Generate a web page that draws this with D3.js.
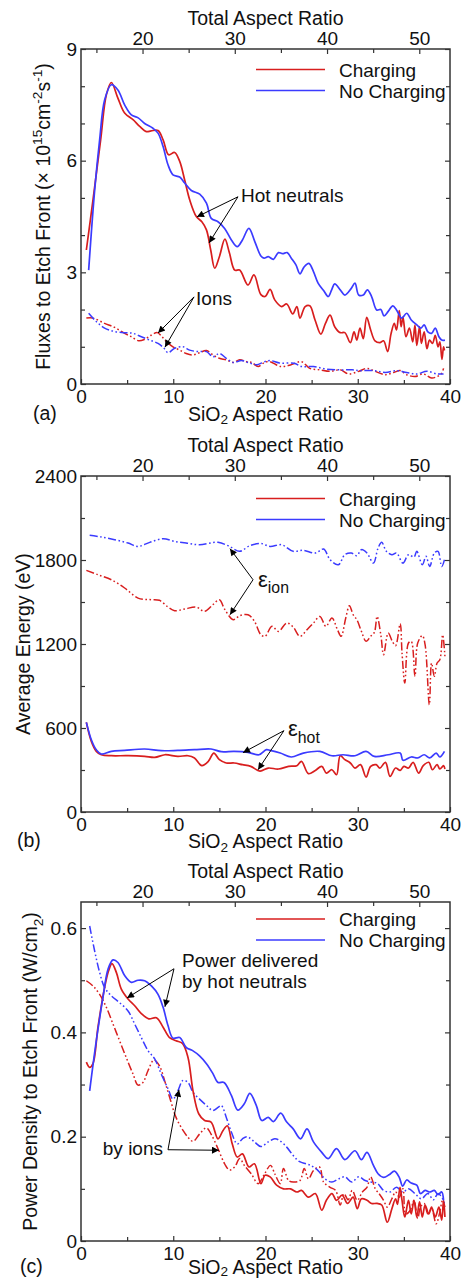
<!DOCTYPE html>
<html>
<head>
<meta charset="utf-8">
<script src="https://cdn.jsdelivr.net/npm/d3@7"></script>
<style>
  html, body { margin: 0; padding: 0; background: #fff; }
  svg { display: block; font-family: "Liberation Sans", Arial, Helvetica, sans-serif; }
</style>
</head>
<body>
<svg id="chart" width="463" height="1280"></svg>
<script>
// ---------------------------------------------------------------
// Axis ticks
// ---------------------------------------------------------------
const sio2Ticks = [0, 10, 20, 30, 40];
const sio2Minor = [5, 15, 25, 35];
const totalTicks = [20, 30, 40, 50];
const totalMinor = [15, 25, 35, 45];
const maskAspectRatio = 13.33;          // total aspect ratio = SiO2 aspect ratio + mask
const fluxTicks = [0, 3, 6, 9];
const fluxMinor = [1, 2, 4, 5, 7, 8];
const energyTicks = [0, 600, 1200, 1800, 2400];
const energyMinor = [300, 900, 1500, 2100];
const powerTicks = [0, 0.2, 0.4, 0.6];
const powerMinor = [0.1, 0.3, 0.5];

// ---------------------------------------------------------------
// (a) Fluxes to etch front (x 1e15 cm^-2 s^-1) vs SiO2 aspect ratio
// ---------------------------------------------------------------
const fluxHotCharging = [[0.58,3.6],[1.3,4.95],[2.13,6.56],[2.75,7.77],[3.29,8.1],[4.0,7.68],[4.73,7.28],[5.64,7.1],[6.36,6.92],[7.08,6.78],[7.6,6.8],[8.35,6.81],[8.9,6.56],[9.5,6.16],[10.15,6.22],[10.7,5.98],[11.24,5.48],[11.78,4.95],[12.5,4.5],[13.1,4.36],[13.6,4.14],[14.06,3.6],[14.5,3.11],[15.0,3.42],[15.6,3.89],[16.1,3.51],[16.66,3.06],[17.2,3.06],[18.1,2.66],[18.75,2.93],[19.5,2.4],[19.95,2.35],[20.5,2.54],[21.0,2.26],[21.75,2.08],[22.3,2.15],[22.95,1.88],[23.4,2.08],[23.74,1.77],[24.3,2.08],[24.8,2.1],[25.37,1.72],[26.0,1.34],[26.5,1.63],[27.0,1.85],[27.5,1.54],[28.1,1.38],[28.6,1.38],[29.2,1.11],[29.6,1.4],[29.9,1.18],[30.24,1.5],[30.6,1.22],[30.97,1.79],[31.4,1.45],[31.87,1.16],[32.4,1.11],[32.8,1.16],[33.24,0.87],[33.6,1.34],[33.96,1.63],[34.2,1.45],[34.5,1.97],[34.7,1.54],[34.9,1.8],[35.23,1.27],[35.6,1.5],[35.96,1.13],[36.2,1.58],[36.4,1.04],[36.7,1.54],[36.9,1.09],[37.2,1.4],[37.5,0.95],[37.78,1.18],[38.1,1.09],[38.4,1.31],[38.7,1.0],[38.9,1.13],[39.13,0.66],[39.3,1.0],[39.4,0.9]];
const fluxHotNoCharging = [[0.83,3.06],[1.48,5.2],[2.02,6.56],[2.56,7.63],[3.29,8.04],[4.0,7.9],[4.73,7.5],[5.46,7.23],[6.2,7.15],[6.9,7.0],[7.8,6.87],[8.35,6.74],[8.9,6.38],[9.43,5.89],[9.97,5.62],[10.7,5.56],[11.24,5.4],[11.96,5.2],[12.87,5.1],[13.6,4.86],[14.12,4.45],[14.85,4.36],[15.57,4.18],[16.3,3.87],[16.94,3.69],[17.5,3.87],[18.2,4.18],[18.85,3.82],[19.5,3.44],[19.84,3.38],[20.3,3.42],[20.85,3.35],[21.4,3.53],[21.85,3.5],[22.35,3.53],[22.8,3.38],[23.3,3.2],[23.74,2.96],[24.17,3.14],[24.7,3.24],[25.2,3.02],[25.7,2.71],[26.3,2.51],[26.8,2.35],[27.17,2.53],[27.5,2.69],[28.1,2.53],[28.6,2.39],[29.3,2.57],[29.7,2.71],[30.1,2.39],[30.6,2.39],[31.04,2.53],[31.5,2.35],[32.05,1.99],[32.5,2.0],[32.85,1.83],[33.3,1.95],[33.8,2.1],[34.2,1.99],[34.76,1.77],[35.3,1.9],[35.8,1.72],[36.4,1.59],[36.85,1.5],[37.2,1.59],[37.6,1.4],[38.0,1.36],[38.4,1.5],[38.8,1.27],[39.1,1.18],[39.45,1.18]];
const fluxIonCharging = [[0.58,1.77],[1.3,1.77],[2.56,1.63],[3.65,1.52],[4.73,1.36],[5.46,1.27],[6.25,1.16],[6.9,1.2],[7.6,1.31],[8.27,1.38],[8.7,1.29],[9.25,1.14],[9.97,1.0],[10.7,0.91],[11.4,0.82],[12.1,0.78],[12.85,0.84],[13.6,0.9],[14.3,0.78],[15.0,0.69],[15.75,0.65],[16.5,0.58],[17.2,0.65],[17.95,0.6],[18.5,0.58],[19.2,0.47],[19.9,0.58],[20.5,0.6],[21.6,0.47],[22.7,0.51],[23.9,0.6],[24.8,0.42],[25.9,0.38],[27.0,0.34],[28.1,0.38],[29.0,0.27],[30.1,0.34],[31.0,0.42],[31.9,0.34],[33.0,0.25],[33.9,0.31],[34.6,0.36],[35.3,0.25],[36.2,0.2],[37.1,0.27],[38.0,0.16],[38.6,0.2],[39.1,0.29],[39.3,0.42]];
const fluxIonNoCharging = [[0.83,1.9],[1.65,1.68],[2.56,1.5],[3.65,1.41],[4.73,1.38],[5.64,1.36],[6.54,1.27],[7.45,1.18],[8.35,1.09],[9.0,0.96],[9.43,0.84],[10.15,0.96],[11.06,1.0],[11.78,0.91],[12.7,0.87],[13.6,0.87],[14.3,0.73],[15.0,0.82],[15.75,0.69],[16.5,0.58],[17.4,0.63],[18.1,0.58],[19.1,0.52],[19.9,0.6],[20.5,0.63],[21.6,0.56],[23.1,0.56],[23.9,0.47],[25.2,0.47],[26.6,0.4],[28.1,0.38],[29.4,0.38],[30.2,0.36],[31.7,0.36],[33.0,0.31],[34.2,0.36],[35.3,0.31],[36.4,0.27],[37.5,0.34],[38.6,0.27],[39.3,0.27]];

// ---------------------------------------------------------------
// (b) Average energy (eV) vs SiO2 aspect ratio
// ---------------------------------------------------------------
const energyIonNoCharging = [[0.94,1976],[2.2,1964],[3.65,1945],[5.1,1921],[6.18,1897],[7.45,1926],[8.9,1952],[10.15,1933],[11.4,1921],[12.85,1909],[14.85,1926],[16.1,1897],[17.2,1862],[18.3,1902],[19.5,1918],[20.5,1897],[21.75,1909],[23.0,1862],[24.1,1869],[25.4,1850],[26.3,1878],[27.0,1802],[27.9,1766],[28.6,1838],[29.3,1850],[29.9,1831],[30.4,1874],[31.0,1850],[31.7,1778],[32.2,1885],[32.6,1926],[33.1,1862],[33.7,1838],[34.2,1850],[34.9,1778],[35.5,1838],[36.1,1821],[36.4,1862],[37.0,1766],[37.4,1826],[37.8,1754],[38.3,1850],[38.7,1862],[39.1,1754],[39.4,1802]];
const energyIonCharging = [[0.58,1726],[1.84,1695],[3.29,1659],[4.73,1600],[6.18,1528],[7.45,1517],[8.5,1512],[9.43,1464],[10.15,1438],[11.24,1450],[12.5,1464],[13.4,1433],[14.3,1481],[15.0,1516],[15.6,1445],[16.5,1374],[17.2,1402],[18.1,1409],[18.8,1362],[19.5,1266],[19.95,1255],[20.7,1326],[21.4,1290],[22.3,1350],[23.0,1321],[23.74,1255],[24.5,1302],[25.2,1350],[25.9,1397],[26.55,1326],[27.2,1386],[27.8,1302],[28.2,1255],[28.7,1386],[29.1,1474],[29.5,1409],[29.9,1374],[30.4,1290],[30.9,1219],[31.4,1255],[31.8,1283],[32.1,1397],[32.5,1266],[32.8,1124],[33.3,1278],[33.75,1219],[34.1,1188],[34.6,1345],[34.8,1136],[35.1,921],[35.5,1207],[35.8,1219],[36.2,969],[36.5,1207],[37.0,1260],[37.3,1195],[37.76,766],[38.0,1064],[38.3,969],[38.6,1064],[38.9,1088],[39.2,1266],[39.45,1112]];
const energyHotNoCharging = [[0.58,640],[1.12,516],[1.66,444],[2.2,414],[3.29,433],[4.73,440],[6.9,450],[8.7,438],[10.5,440],[12.3,445],[14.1,450],[15.2,431],[16.6,433],[18.1,426],[19.3,409],[20.1,445],[20.5,440],[21.6,421],[22.8,393],[24.1,421],[25.9,433],[27.2,402],[28.4,409],[29.7,402],[30.9,433],[31.8,397],[33.3,409],[34.6,421],[34.9,369],[35.8,393],[36.5,386],[37.2,409],[37.8,386],[38.5,421],[38.9,393],[39.4,433]];
const energyHotCharging = [[0.58,640],[1.12,504],[1.66,433],[2.2,409],[3.29,402],[5.1,402],[6.9,397],[8.0,390],[9.1,409],[10.5,397],[11.6,402],[12.3,386],[13.1,331],[13.8,362],[14.4,421],[15.0,374],[15.75,350],[16.6,350],[17.5,338],[18.4,326],[19.4,292],[20.3,314],[21.4,307],[22.5,326],[23.4,331],[23.9,362],[24.65,274],[25.4,297],[26.1,326],[26.6,278],[27.2,302],[27.7,266],[28.1,402],[28.6,374],[29.2,350],[29.7,314],[30.3,338],[30.9,250],[31.4,326],[32.0,338],[32.4,314],[33.0,355],[33.5,255],[34.1,314],[34.6,297],[35.0,326],[35.5,314],[36.0,355],[36.6,278],[37.1,331],[37.7,355],[38.1,302],[38.6,338],[38.9,307],[39.3,331],[39.45,307]];

// ---------------------------------------------------------------
// (c) Power density to etch front (W/cm2) vs SiO2 aspect ratio
// ---------------------------------------------------------------
const powerHotNoCharging = [[0.94,0.288],[1.66,0.384],[2.38,0.467],[2.93,0.521],[3.47,0.539],[4.0,0.534],[4.73,0.509],[5.46,0.496],[6.18,0.5],[6.9,0.499],[7.63,0.489],[8.35,0.473],[8.9,0.448],[9.43,0.413],[9.97,0.389],[10.7,0.39],[11.4,0.371],[12.1,0.365],[12.85,0.355],[13.6,0.34],[14.3,0.321],[14.85,0.304],[15.5,0.304],[16.3,0.279],[17.0,0.251],[17.7,0.263],[18.3,0.283],[19.0,0.26],[19.6,0.231],[20.3,0.237],[20.85,0.229],[21.65,0.245],[22.3,0.228],[23.0,0.215],[23.8,0.196],[24.5,0.215],[25.2,0.19],[26.1,0.17],[26.8,0.158],[27.7,0.177],[28.6,0.156],[29.7,0.173],[30.4,0.156],[31.0,0.17],[31.7,0.145],[32.2,0.129],[32.8,0.122],[33.4,0.127],[33.97,0.134],[34.5,0.122],[34.87,0.105],[35.3,0.117],[35.8,0.111],[36.4,0.107],[36.8,0.091],[37.3,0.097],[37.8,0.094],[38.3,0.097],[38.7,0.089],[39.1,0.094],[39.3,0.078]];
const powerHotCharging = [[0.58,0.343],[0.94,0.333],[1.3,0.34],[1.84,0.41],[2.56,0.486],[2.99,0.518],[3.36,0.532],[3.83,0.515],[4.37,0.483],[5.1,0.464],[5.82,0.451],[6.54,0.436],[7.34,0.426],[8.17,0.428],[8.9,0.41],[9.6,0.39],[10.3,0.384],[11.0,0.379],[11.6,0.352],[12.14,0.288],[12.76,0.244],[13.4,0.231],[14.1,0.228],[14.85,0.196],[15.4,0.212],[15.86,0.221],[16.4,0.186],[16.94,0.161],[17.5,0.167],[18.2,0.142],[18.8,0.148],[19.5,0.11],[19.95,0.126],[20.5,0.123],[21.2,0.107],[21.95,0.1],[22.7,0.1],[23.4,0.094],[23.9,0.097],[24.65,0.084],[25.4,0.091],[26.1,0.059],[26.6,0.078],[27.2,0.091],[27.7,0.078],[28.3,0.088],[28.9,0.072],[29.5,0.084],[29.95,0.062],[30.4,0.081],[31.0,0.078],[31.5,0.072],[32.1,0.072],[32.6,0.069],[33.2,0.036],[33.7,0.062],[34.1,0.081],[34.3,0.07],[34.58,0.103],[34.8,0.078],[35.1,0.046],[35.5,0.078],[35.8,0.052],[36.1,0.078],[36.4,0.046],[36.7,0.075],[37.0,0.046],[37.3,0.069],[37.7,0.052],[38.0,0.065],[38.4,0.046],[38.8,0.065],[39.1,0.04],[39.3,0.078],[39.45,0.046]];
const powerIonNoCharging = [[0.94,0.604],[1.48,0.556],[2.02,0.515],[2.56,0.486],[3.29,0.47],[4.18,0.457],[5.1,0.441],[5.82,0.416],[6.54,0.39],[7.27,0.365],[7.99,0.349],[8.7,0.32],[9.43,0.292],[9.97,0.272],[10.5,0.288],[11.06,0.308],[11.6,0.304],[12.14,0.285],[12.85,0.272],[13.6,0.26],[14.3,0.25],[14.85,0.256],[15.2,0.26],[15.75,0.237],[16.3,0.209],[16.94,0.186],[17.5,0.196],[18.0,0.2],[18.8,0.19],[19.5,0.181],[20.3,0.19],[21.0,0.196],[21.5,0.193],[22.3,0.18],[23.0,0.164],[23.7,0.152],[24.4,0.148],[24.9,0.145],[25.7,0.135],[26.45,0.119],[27.2,0.113],[27.9,0.119],[28.6,0.123],[29.35,0.113],[30.1,0.123],[30.8,0.116],[31.4,0.113],[32.1,0.111],[32.8,0.097],[33.5,0.094],[34.2,0.103],[34.9,0.094],[35.5,0.1],[36.2,0.091],[36.9,0.081],[37.6,0.091],[38.2,0.079],[38.7,0.091],[39.2,0.081],[39.4,0.072]];
const powerIonCharging = [[0.58,0.499],[1.3,0.489],[2.02,0.473],[2.75,0.448],[3.47,0.416],[4.18,0.384],[4.9,0.352],[5.64,0.32],[6.18,0.299],[6.72,0.304],[7.27,0.327],[7.9,0.347],[8.5,0.336],[9.07,0.307],[9.72,0.269],[10.3,0.237],[11.06,0.212],[11.6,0.199],[12.14,0.191],[12.85,0.205],[13.6,0.217],[14.1,0.205],[14.85,0.177],[15.57,0.148],[16.1,0.136],[16.66,0.142],[17.2,0.158],[17.7,0.145],[18.45,0.129],[19.2,0.11],[19.9,0.129],[20.55,0.145],[21.0,0.129],[21.6,0.11],[21.95,0.139],[22.5,0.116],[23.0,0.113],[23.74,0.116],[24.2,0.139],[24.65,0.119],[25.2,0.135],[25.85,0.142],[26.3,0.113],[27.0,0.103],[27.6,0.097],[28.1,0.069],[28.5,0.091],[28.96,0.079],[29.4,0.097],[29.95,0.078],[30.5,0.094],[31.0,0.103],[31.4,0.123],[31.9,0.1],[32.3,0.091],[32.8,0.078],[33.2,0.065],[33.7,0.081],[34.1,0.094],[34.5,0.084],[34.9,0.1],[35.2,0.052],[35.7,0.059],[36.1,0.078],[36.5,0.043],[36.8,0.065],[37.2,0.072],[37.6,0.052],[38.0,0.062],[38.5,0.033],[38.85,0.052],[39.2,0.078],[39.45,0.065]];

// ---------------------------------------------------------------
// Styling
// ---------------------------------------------------------------
const RED = "#d81e1e";
const BLUE = "#3b3bff";
const AXIS = "#333";
const FONT = 19;
const ION_DASH = "8,2.5,1.6,2.5,1.6,2.5";
const plotLeft = 81, plotRight = 450;

const svg = d3.select("#chart");

// arrowhead marker
svg.append("defs").append("marker")
  .attr("id", "arrowhead")
  .attr("viewBox", "0 0 10 10")
  .attr("refX", 10).attr("refY", 5)
  .attr("markerWidth", 11).attr("markerHeight", 7)
  .attr("markerUnits", "userSpaceOnUse")
  .attr("orient", "auto")
  .append("path").attr("d", "M0,0 L10,5 L0,10 Z").attr("fill", "#000");

// text with super/subscript runs
function richText(sel, parts, size) {
  let shift = 0;
  parts.forEach(p => {
    const target = p.sup ? -0.4 * size : (p.sub ? (p.drop || 0.3) * size : 0);
    const ts = sel.append("tspan").text(p.t).attr("dy", target - shift);
    if (p.sup || p.sub) ts.attr("font-size", (p.scale || 0.7) * size);
    shift = target;
  });
}

function axisPair(g, axisFn, scale, major, minor, transform, pad, fmt) {
  const a = g.append("g").attr("transform", transform)
    .call(axisFn(scale).tickValues(major).tickSizeInner(-5).tickSizeOuter(0)
      .tickPadding(pad).tickFormat(fmt));
  a.select(".domain").remove();
  a.attr("font-size", FONT).attr("font-family", null).attr("color", AXIS);
  a.selectAll("text").attr("fill", "#111");
  a.selectAll("line").attr("stroke-width", 1.2);
  const m = g.append("g").attr("transform", transform)
    .call(axisFn(scale).tickValues(minor).tickSizeInner(-4).tickSizeOuter(0).tickFormat(""));
  m.select(".domain").remove();
  m.attr("color", AXIS);
  m.selectAll("line").attr("stroke-width", 1.2);
}

function drawPanel(cfg) {
  const g = svg.append("g");
  const x = d3.scaleLinear().domain([0, 40]).range([plotLeft, plotRight]);
  const xTop = d3.scaleLinear().domain([maskAspectRatio, 40 + maskAspectRatio]).range([plotLeft, plotRight]);
  const y = d3.scaleLinear().domain(cfg.yDomain).range([cfg.bottom, cfg.top]);

  // data curves
  const line = d3.line().x(d => x(d[0])).y(d => y(d[1])).curve(d3.curveCatmullRom.alpha(0.5));
  cfg.series.forEach(s => {
    g.append("path").datum(s.data)
      .attr("d", line)
      .attr("fill", "none")
      .attr("stroke", s.color)
      .attr("stroke-width", s.dash ? 1.5 : 1.7)
      .attr("stroke-dasharray", s.dash || null)
      .attr("stroke-linejoin", "round");
  });

  // axes
  const fmt = cfg.yFormat || (d => String(d));
  axisPair(g, d3.axisBottom, x, sio2Ticks, sio2Minor, `translate(0,${cfg.bottom})`, 6, d => String(d));
  axisPair(g, d3.axisTop, xTop, totalTicks, totalMinor, `translate(0,${cfg.top})`, 4, d => String(d));
  axisPair(g, d3.axisLeft, y, cfg.yTicks, cfg.yMinor, `translate(${plotLeft},0)`, 4, fmt);
  axisPair(g, d3.axisRight, y, cfg.yTicks, cfg.yMinor, `translate(${plotRight},0)`, 4, () => "");

  // frame
  g.append("rect")
    .attr("x", plotLeft).attr("y", cfg.top)
    .attr("width", plotRight - plotLeft).attr("height", cfg.bottom - cfg.top)
    .attr("fill", "none").attr("stroke", AXIS).attr("stroke-width", 1.5);

  const midX = (plotLeft + plotRight) / 2;
  // top axis title
  g.append("text").attr("x", midX).attr("y", cfg.top - 24)
    .attr("text-anchor", "middle").attr("font-size", FONT + 0.5).attr("fill", "#111")
    .text("Total Aspect Ratio");
  // bottom axis title
  const bt = g.append("text").attr("x", midX).attr("y", cfg.bottom + cfg.titleGap)
    .attr("text-anchor", "middle").attr("font-size", FONT + 0.5).attr("fill", "#111");
  richText(bt, [{t: "SiO"}, {t: "2", sub: true, drop: cfg.subDrop || 0.2}, {t: " Aspect Ratio"}], FONT + 0.5);
  // panel letter
  g.append("text").attr("x", cfg.letterX).attr("y", cfg.bottom + cfg.titleGap - 1)
    .attr("font-size", FONT + 0.5).attr("fill", "#111").text(cfg.letter);
  // y axis title
  const yt = g.append("text")
    .attr("transform", `translate(${cfg.yTitleX},${(cfg.top + cfg.bottom) / 2}) rotate(-90)`)
    .attr("text-anchor", "middle").attr("font-size", FONT + 0.5).attr("fill", "#111");
  richText(yt, cfg.yTitle, FONT + 0.5);

  // legend
  const lg = g.append("g");
  [["Charging", RED], ["No Charging", BLUE]].forEach((e, i) => {
    const ly = cfg.legendY + i * 21;
    lg.append("line").attr("x1", 256).attr("x2", 325).attr("y1", ly).attr("y2", ly)
      .attr("stroke", e[1]).attr("stroke-width", 1.7);
    lg.append("text").attr("x", 339).attr("y", ly + 7).attr("font-size", FONT)
      .attr("fill", "#111").text(e[0]);
  });

  // annotations
  cfg.notes.forEach(n => {
    const t = g.append("text").attr("x", x(n.at[0])).attr("y", y(n.at[1]))
      .attr("font-size", n.size || FONT).attr("fill", "#111")
      .attr("text-anchor", n.anchor || "start");
    richText(t, n.parts, n.size || FONT);
  });
  cfg.arrows.forEach(a => {
    g.append("line")
      .attr("x1", x(a[0][0])).attr("y1", y(a[0][1]))
      .attr("x2", x(a[1][0])).attr("y2", y(a[1][1]))
      .attr("stroke", "#000").attr("stroke-width", 1)
      .attr("marker-end", "url(#arrowhead)");
  });
}

// (a)
drawPanel({
  top: 49, bottom: 384, yDomain: [0, 9], yTicks: fluxTicks, yMinor: fluxMinor,
  letter: "(a)", letterX: 33, yTitleX: 50, legendY: 69.5, titleGap: 36.5,
  yTitle: [{t: "Fluxes to Etch Front (\u00d7 10"}, {t: "15", sup: true}, {t: "cm"}, {t: "-2", sup: true},
           {t: "s"}, {t: "-1", sup: true}, {t: ")"}],
  series: [
    {data: fluxHotCharging, color: RED},
    {data: fluxHotNoCharging, color: BLUE},
    {data: fluxIonCharging, color: RED, dash: ION_DASH},
    {data: fluxIonNoCharging, color: BLUE, dash: ION_DASH}
  ],
  notes: [
    {at: [17.34, 4.89], parts: [{t: "Hot neutrals"}]},
    {at: [12.47, 2.12], parts: [{t: "Ions"}]}
  ],
  arrows: [
    [[17.02, 5.03], [12.57, 4.49]], [[17.02, 5.03], [13.88, 3.79]],
    [[12.25, 2.34], [8.35, 1.37]], [[12.25, 2.34], [9.1, 0.99]]
  ]
});

// (b)
drawPanel({
  top: 476, bottom: 812, yDomain: [0, 2400], yTicks: energyTicks, yMinor: energyMinor,
  letter: "(b)", letterX: 17, yTitleX: 30, legendY: 498.5, titleGap: 36,
  yTitle: [{t: "Average Energy (eV)"}],
  series: [
    {data: energyIonCharging, color: RED, dash: ION_DASH},
    {data: energyIonNoCharging, color: BLUE, dash: ION_DASH},
    {data: energyHotCharging, color: RED},
    {data: energyHotNoCharging, color: BLUE}
  ],
  notes: [
    {at: [19.19, 1610], size: 22, parts: [{t: "\u03b5"}, {t: "ion", sub: true, scale: 0.72}]},
    {at: [22.44, 540], size: 22, parts: [{t: "\u03b5"}, {t: "hot", sub: true, scale: 0.72}]}
  ],
  arrows: [
    [[18.65, 1659], [16.15, 1881]], [[18.65, 1659], [16.15, 1409]],
    [[22.0, 581], [17.56, 424]], [[22.0, 581], [19.19, 302]]
  ]
});

// (c)
drawPanel({
  top: 902, bottom: 1241, yDomain: [0, 0.65], yTicks: powerTicks, yMinor: powerMinor,
  letter: "(c)", letterX: 20, yTitleX: 37, legendY: 919, titleGap: 32.5, subDrop: 0.12,
  yTitle: [{t: "Power Density to Etch Front (W/cm"}, {t: "2", sub: true}, {t: ")"}],
  series: [
    {data: powerIonCharging, color: RED, dash: ION_DASH},
    {data: powerIonNoCharging, color: BLUE, dash: ION_DASH},
    {data: powerHotCharging, color: RED},
    {data: powerHotNoCharging, color: BLUE}
  ],
  notes: [
    {at: [10.95, 0.526], parts: [{t: "Power delivered"}]},
    {at: [10.95, 0.486], parts: [{t: "by hot neutrals"}]},
    {at: [8.89, 0.164], anchor: "end", parts: [{t: "by ions"}]}
  ],
  arrows: [
    [[10.08, 0.522], [4.99, 0.466]], [[10.08, 0.522], [9.1, 0.449]],
    [[9.43, 0.175], [10.62, 0.29]], [[9.43, 0.175], [14.96, 0.174]]
  ]
});
</script>
</body>
</html>
